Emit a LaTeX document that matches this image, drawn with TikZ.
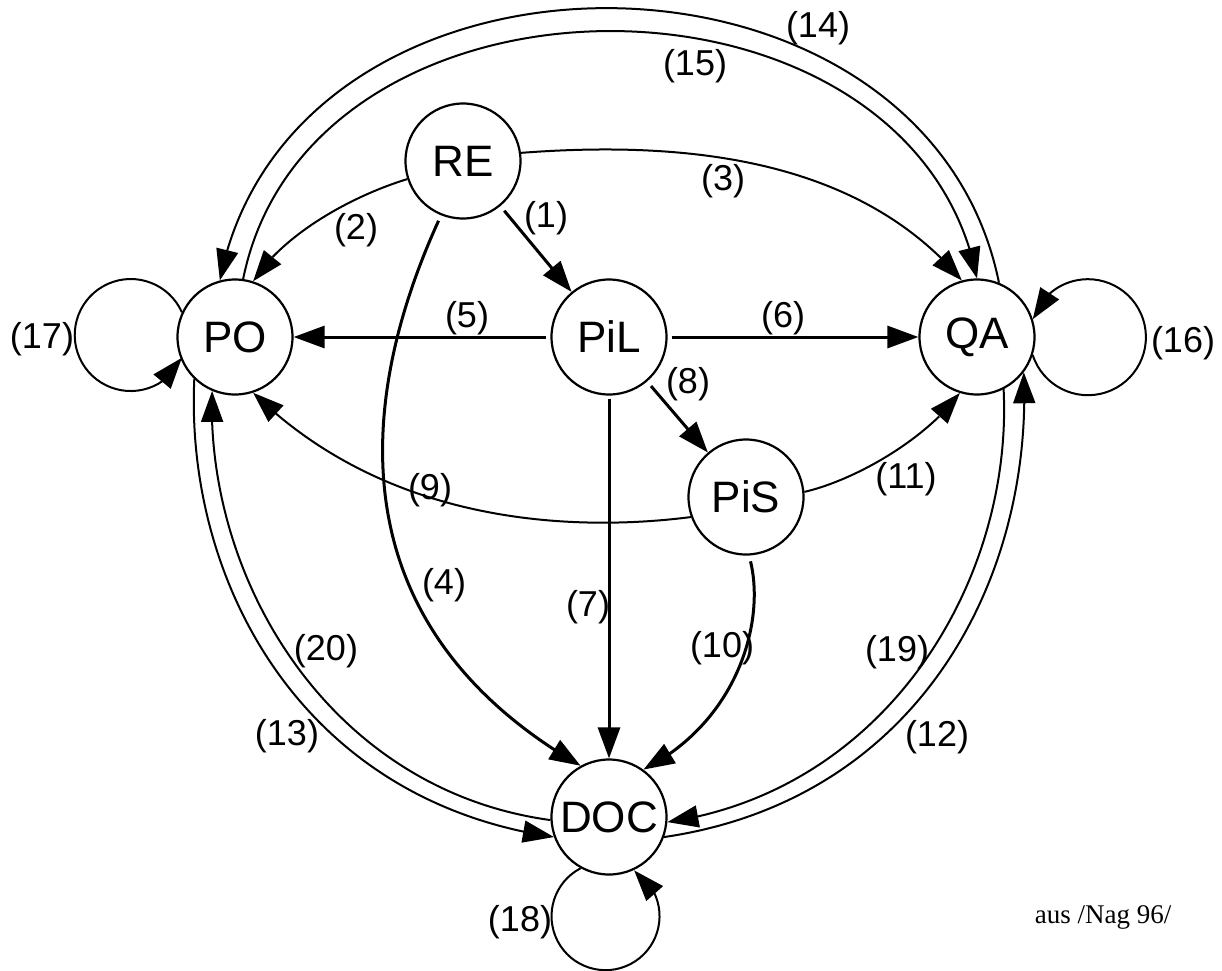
\documentclass[tikz,border=0pt]{standalone}
\usepackage{fontspec}
\setmainfont{Liberation Sans}
\newfontfamily\serifaus{Liberation Serif}
\usetikzlibrary{arrows.meta,bending}
\begin{document}
\begin{tikzpicture}[x=1pt,y=-1pt,
  state/.style={circle,draw,line width=2.2pt,minimum size=115pt,inner sep=0pt,font=\fontsize{44}{44}\selectfont},
  lab/.style={inner sep=0pt,font=\fontsize{36}{36}\selectfont},
  thin/.style={line width=2pt,-{Triangle[length=31pt,width=22pt]}},
  thick/.style={line width=3pt,-{Triangle[length=31pt,width=22pt]}},
  plain/.style={line width=2pt}]
\useasboundingbox (0,0) rectangle (1222,970);
% nodes
\node[state] (RE)  at (463,161) {RE};
\node[state] (PO)  at (235,337) {PO};
\node[state] (PiL) at (609,337) {PiL};
\node[state] (QA)  at (977,337) {QA};
\node[state] (PiS) at (746,497) {PiS};
\node[state] (DOC) at (609,817) {DOC};
% straight edges
\draw[thick,shorten <=6pt] (RE) -- (PiL);
\draw[thick,shorten <=4pt] (PiL) -- (PO);
\draw[thick,shorten <=4pt] (PiL) -- (QA);
\draw[thick,shorten <=3pt] (PiL) -- (DOC);
\draw[thick,shorten <=6pt] (PiL) -- (PiS);
% curved edges
\draw[thin] (RE.198) .. controls (355,195) and (285,232) .. (PO.72);
\draw[thin] (RE.8) .. controls (690,140) and (860,160) .. (QA.105);
\draw[thick,shorten <=6pt] (RE.248) .. controls (375,360) and (310,610) .. (DOC.119);
\draw[thin] (PiS.200) .. controls (590,530) and (395,532) .. (PO.-72);
\draw[thick,shorten <=6pt] (PiS.-87) .. controls (765,620) and (740,720) .. (DOC.54);
\draw[thin] (PiS.5) .. controls (855,480) and (925,440) .. (QA.-107);
% outer / inner arcs
\draw[thin] (QA.68) .. controls (925,-81) and (292,-85) .. (PO.105);
\draw[thin] (PO.82) .. controls (310,-52) and (912,-51) .. (QA.90);
\draw[thin] (PO.-134) .. controls (185,580) and (300,800) .. (DOC.200);
\draw[thin] (DOC.183) .. controls (330,790) and (205,580) .. (PO.-113);
\draw[thin] (DOC.-20) .. controls (918,800) and (1033,580) .. (QA.-37);
\draw[thin] (QA.-63) .. controls (1013,580) and (888,790) .. (DOC.-5);
% loops
\draw[thin] (PO.155) arc[start angle=24, end angle=336, radius=56pt];
\draw[thin] (QA.-18) arc[start angle=198, end angle=522, radius=58pt];
\draw[thin] (DOC.241) arc[start angle=117.5, end angle=418, radius=54pt];
% labels
\node[lab] (l1)  at (546,218) {(1)};
\node[lab] (l2)  at (356,230) {(2)};
\node[lab] (l3)  at (723,181) {(3)};
\node[lab] (l4)  at (444,585) {(4)};
\node[lab] (l5)  at (467,318) {(5)};
\node[lab] (l6)  at (783,318) {(6)};
\node[lab] (l7)  at (588,607) {(7)};
\node[lab] (l8)  at (688,384) {(8)};
\node[lab] (l9)  at (430,490) {(9)};
\node[lab] (l10) at (722,648) {(10)};
\node[lab] (l11) at (906,479) {(11)};
\node[lab] (l12) at (937,737) {(12)};
\node[lab] (l13) at (287,736) {(13)};
\node[lab] (l14) at (818,28) {(14)};
\node[lab] (l15) at (695,66) {(15)};
\node[lab] (l16) at (1183,343) {(16)};
\node[lab] (l17) at (42,339) {(17)};
\node[lab] (l18) at (520,922) {(18)};
\node[lab] (l19) at (897,652) {(19)};
\node[lab] (l20) at (326,651) {(20)};
\node[inner sep=0pt,font=\serifaus\fontsize{27}{27}\selectfont] (aus) at (1103,917) {aus /Nag 96/};
\end{tikzpicture}
\end{document}
